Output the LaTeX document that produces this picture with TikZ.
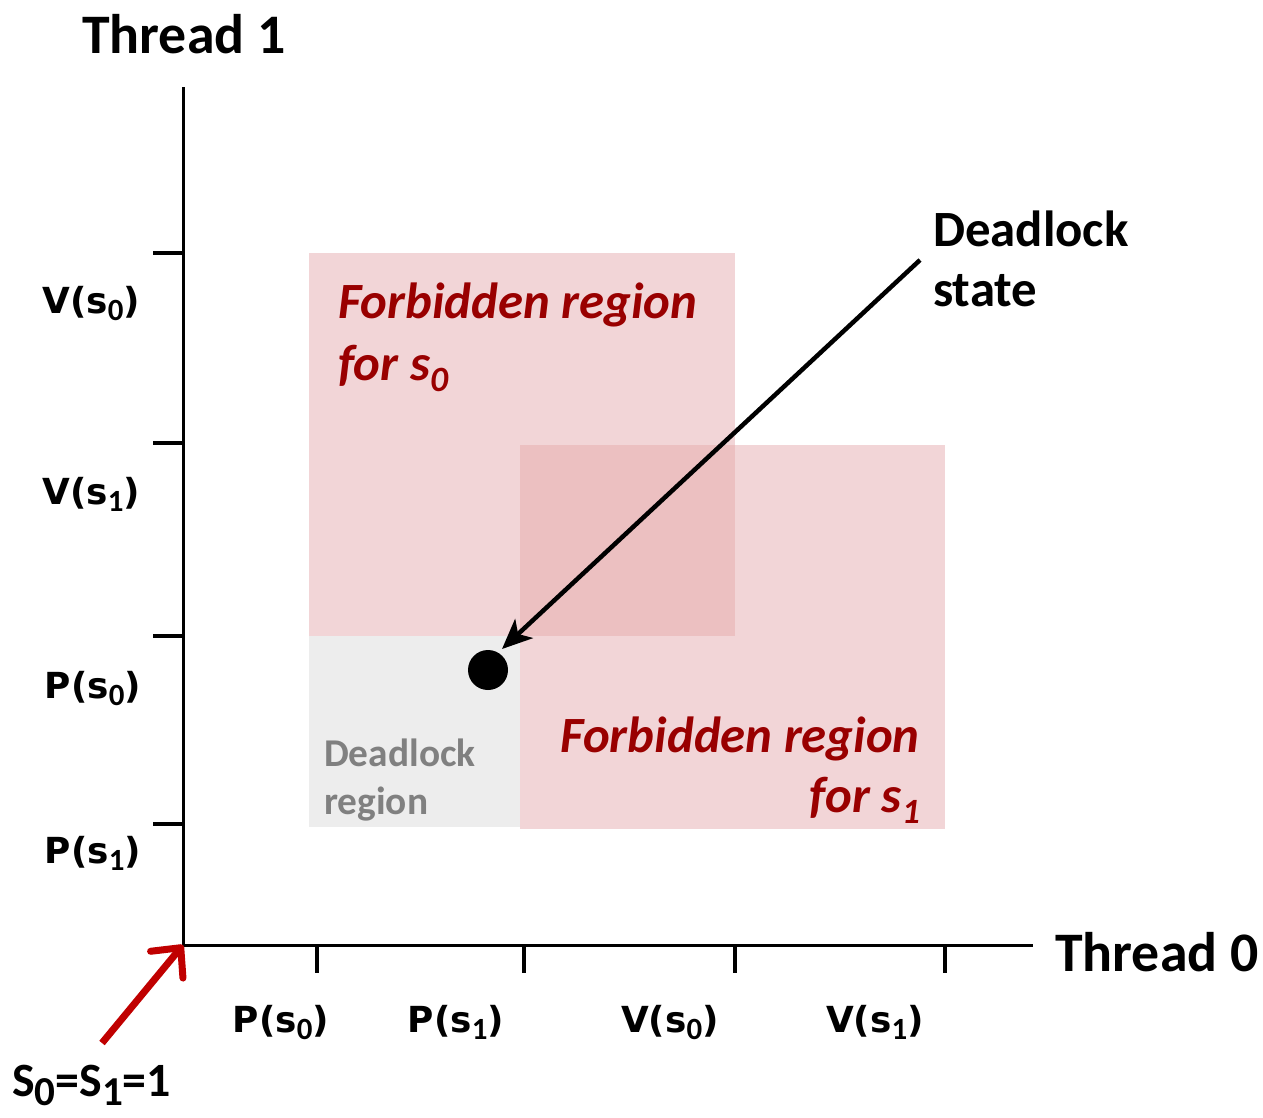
\documentclass[tikz,border=0pt]{standalone}
\usepackage{fontspec}
\setmainfont{Carlito}
\newfontfamily\lblfont{DejaVu Sans}
\usepackage{graphicx}
\usetikzlibrary{arrows.meta}
\definecolor{pinkA}{RGB}{242,213,215}
\definecolor{pinkB}{RGB}{236,192,193}
\definecolor{grayR}{RGB}{237,237,237}
\definecolor{darkred}{RGB}{153,0,0}
\definecolor{arrred}{RGB}{192,0,0}
\definecolor{txtgray}{RGB}{128,128,128}
\newcommand\subs[1]{\raisebox{-0.22em}{\scalebox{0.7}{#1}}}
\newcommand\bsubs[1]{\raisebox{-0.2em}{\scalebox{0.86}{#1}}}
\newcommand\lsub[1]{\raisebox{-7bp}{\normalfont\bfseries\fontsize{31}{33}\selectfont #1}}
\tikzset{
  axis/.style={line width=3bp, black},
  tick/.style={line width=4.5bp, black},
  lab/.style={font=\lblfont\fontsize{36}{40}\selectfont\bfseries, inner sep=0pt},
  big/.style={font=\fontsize{56}{64}\selectfont\bfseries, inner sep=0pt},
  mid/.style={font=\fontsize{51}{60}\selectfont\bfseries, inner sep=0pt},
  forb/.style={font=\fontsize{51}{60}\selectfont\bfseries\itshape, text=darkred, inner sep=0pt},
  dlr/.style={font=\fontsize{39.5}{48}\selectfont\bfseries, text=txtgray, inner sep=0pt},
}
\begin{document}
\begin{tikzpicture}[x=1bp,y=-1bp]
\useasboundingbox (0,0) rectangle (1263,1118);
% regions
\fill[grayR] (309,636) rectangle (520,827);
\fill[pinkA] (309,253) rectangle (735,636);
\fill[pinkA] (520,445) rectangle (945,829);
\fill[pinkB] (520,445) rectangle (735,636);
% axes
\coordinate (O) at (183,945);
\coordinate (ytop) at (183,87);
\coordinate (xend) at (1033,945);
\draw[axis] (ytop) -- (O) -- (xend);
% y ticks
\foreach \yy in {253,443,636,824} \draw[tick] (153,\yy) -- (183,\yy);
% x ticks
\foreach \xx in {317,524,735,945} \draw[tick] (\xx,945) -- (\xx,973);
% axis titles
\node[big, anchor=base west] (t1) at (82,53) {Thread 1};
\node[big, anchor=base west] (t0) at (1055,971) {Thread 0};
% y labels
\node[lab, anchor=base east] (vs0y) at (140,313) {V(s\lsub{0})};
\node[lab, anchor=base east] (vs1y) at (140,504) {V(s\lsub{1})};
\node[lab, anchor=base east] (ps0y) at (141,698) {P(s\lsub{0})};
\node[lab, anchor=base east] (ps1y) at (141,863) {P(s\lsub{1})};
% x labels
\node[lab, anchor=base] (ps0x) at (281,1032) {P(s\lsub{0})};
\node[lab, anchor=base] (ps1x) at (456,1032) {P(s\lsub{1})};
\node[lab, anchor=base] (vs0x) at (670,1032) {V(s\lsub{0})};
\node[lab, anchor=base] (vs1x) at (875,1032) {V(s\lsub{1})};
% forbidden texts
\node[forb, anchor=base west] (f0a) at (338,318) {Forbidden region};
\node[forb, anchor=base west] (f0b) at (338,380) {for s\subs{0}};
\node[forb, anchor=base east] (f1a) at (920,752) {Forbidden region};
\node[forb, anchor=base east] (f1b) at (920,812) {for s\subs{1}};
% deadlock region
\node[dlr, anchor=base west] (dr1) at (324,766) {Deadlock};
\node[dlr, anchor=base west] (dr2) at (324,814) {region};
% deadlock state
\node[mid, anchor=base west] (ds1) at (933,246) {Deadlock};
\node[mid, anchor=base west] (ds2) at (933,306) {state};
\fill[black] (488,670) circle (20);
\coordinate (as) at (920,260);
\coordinate (ae) at (502,649);
\draw[line width=4.5bp, -{Stealth[length=30bp,width=26bp,inset=8bp]}] (as) -- (ae);
% initial state
\node[mid, font=\fontsize{48}{56}\selectfont\bfseries, anchor=base west] (init) at (12,1096) {S\bsubs{0}=S\bsubs{1}=1};
\coordinate (rs) at (102,1043);
\draw[line width=7bp, arrred, line cap=butt, -{Straight Barb[length=22bp,width=42bp,line cap=round,line join=round]}] (rs) -- (O);
\end{tikzpicture}
\end{document}
